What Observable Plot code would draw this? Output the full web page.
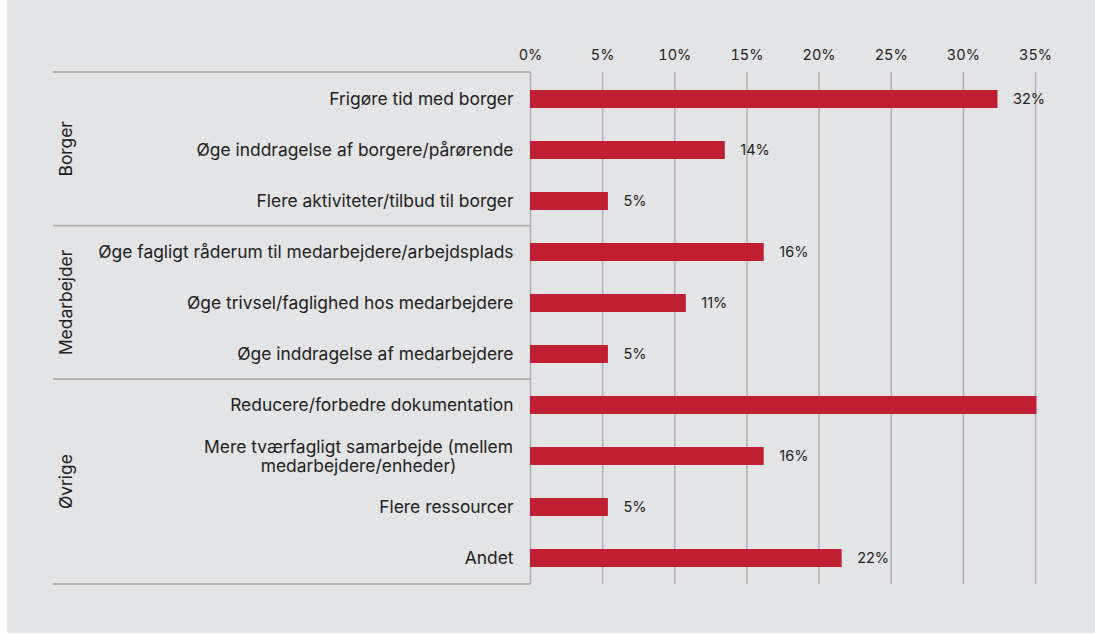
<!DOCTYPE html>
<html><head><meta charset="utf-8">
<script src="https://cdn.jsdelivr.net/npm/d3@7"></script>
<script src="https://cdn.jsdelivr.net/npm/@observablehq/plot@0.6"></script>
<style>
html,body{margin:0;padding:0;background:#fff;}
#chart{position:absolute;left:7px;top:0;width:1088px;height:633px;background:#e3e4e6;}
svg{display:block;}
</style></head><body><div id="chart"></div>
<script>
const categories = [
  "Frigøre tid med borger",
  "Øge inddragelse af borgere/pårørende",
  "Flere aktiviteter/tilbud til borger",
  "Øge fagligt råderum til medarbejdere/arbejdsplads",
  "Øge trivsel/faglighed hos medarbejdere",
  "Øge inddragelse af medarbejdere",
  "Reducere/forbedre dokumentation",
  "Mere tværfagligt samarbejde (mellem\nmedarbejdere/enheder)",
  "Flere ressourcer",
  "Andet"
];
const groups = ["Borger","Borger","Borger","Medarbejder","Medarbejder","Medarbejder","Øvrige","Øvrige","Øvrige","Øvrige"];
const values = [32.4, 13.5, 5.4, 16.2, 10.8, 5.4, 35.1, 16.2, 5.4, 21.6];
const valueLabels = ["32%","14%","5%","16%","11%","5%","","16%","5%","22%"];
const xTicks = [0,5,10,15,20,25,30,35];

const data = categories.map((c,i)=>({category:c, group:groups[i], value:values[i], label:valueLabels[i]}));
const font = "Inter, 'Noto Sans', sans-serif";
const W=1088, H=633;
const textColor = "#222222";
const gridColor = "#b2b2b2";
const labelSize = 17.4;

const plot = Plot.plot({
  width:W, height:H, marginLeft:523, marginRight:60, marginTop:72, marginBottom:49,
  style:{background:"transparent", fontFamily:font, fontSize:"14.5px", color:textColor},
  x:{domain:[0,35], axis:"top", ticks:xTicks, tickFormat:d=>d+"%", tickSize:0, tickPadding:13, label:null},
  y:{domain:categories, axis:null, paddingInner:0.65, paddingOuter:0.325},
  marks:[
    Plot.ruleX(xTicks,{stroke:gridColor, strokeWidth:1.6}),
    Plot.barX(data,{x:"value", y:"category", fill:"#c01f32"}),
    Plot.text(data.filter(d=>d.label),{x:"value", y:"category", text:"label", textAnchor:"start", dx:15, fill:textColor, fontSize:14.5}),
    Plot.text(data.filter(d=>!d.category.includes("\n")),{frameAnchor:"left", y:"category", text:"category", textAnchor:"end", dx:-17, fill:textColor, fontSize:labelSize}),
    Plot.text(data.filter(d=>d.category.includes("\n")),{frameAnchor:"left", y:"category", text:"category", textAnchor:"middle", dx:-172, lineHeight:1.12, fill:textColor, fontSize:labelSize})
  ]
});

// group separators and group labels, positioned via the plot's y scale
const ys = plot.scale("y");
const band = d3.scaleBand().domain(ys.domain).range(ys.range)
  .paddingInner(ys.paddingInner).paddingOuter(ys.paddingOuter).align(ys.align ?? 0.5);
const step = band.step(), bw = band.bandwidth();
const rowTop = c => band(c) - (step - bw)/2;
const rowBottom = c => band(c) + bw + (step - bw)/2;
const groupNames = [...new Set(groups)];
const svg = d3.select(plot);
const g = svg.append("g");
const lx0 = 46, lx1 = 523;
const lines = [];
groupNames.forEach(gn => {
  const cats = categories.filter((c,i)=>groups[i]===gn);
  const y0 = rowTop(cats[0]), y1 = rowBottom(cats[cats.length-1]);
  lines.push(y0, y1);
  g.append("text").attr("transform", `translate(59,${(y0+y1)/2}) rotate(-90)`)
    .attr("text-anchor","middle").attr("dy","0.35em")
    .attr("fill",textColor).style("font-family",font).style("font-size",labelSize+"px").text(gn);
});
[...new Set(lines.map(v=>Math.round(v*10)/10))].forEach(y=>{
  g.append("line").attr("x1",lx0).attr("x2",lx1).attr("y1",y).attr("y2",y)
    .attr("stroke",gridColor).attr("stroke-width",1.8);
});
document.getElementById("chart").appendChild(plot);
</script></body></html>
